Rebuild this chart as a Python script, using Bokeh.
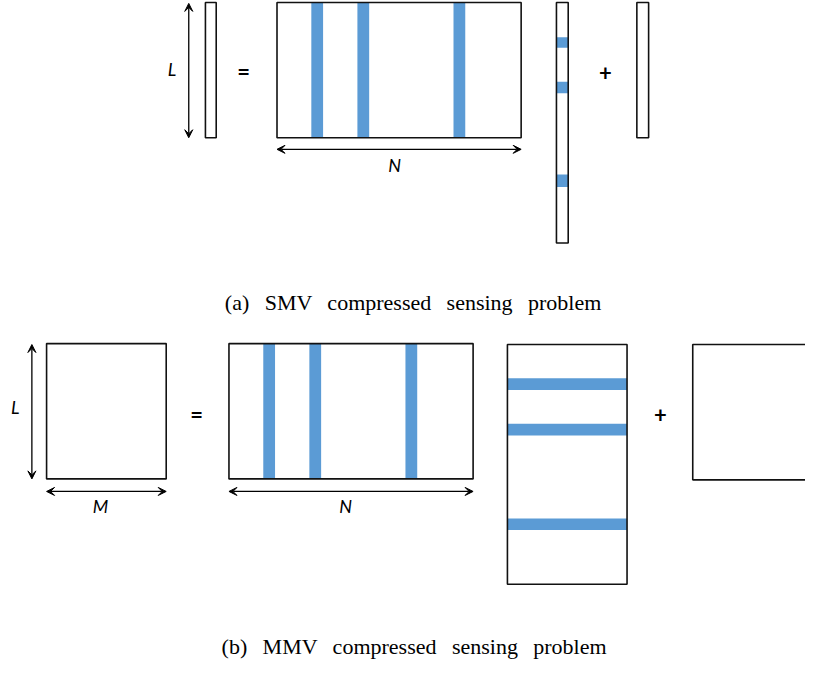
from bokeh.plotting import figure
from bokeh.models import Range1d, Arrow, VeeHead
from bokeh.core.properties import value
from bokeh.embed import file_html
from bokeh.resources import INLINE

# ---- geometry of the diagram (image pixel coordinates, y downward) ----
# plain outlined boxes: left, right, top, bottom
box_left   = [209, 282, 567, 649,  47, 233, 517, 706]
box_right  = [220, 531, 579, 661, 169, 482, 639, 840]
box_top    = [  1,   1,   1,   1, 354, 354, 355, 355]
box_bottom = [141, 141, 250, 141, 494, 494, 603, 495]

# blue columns of the dictionary matrices
col_left   = [317, 364, 462, 268, 315, 413]
col_width  = 12
col_top    = [  1,   1,   1, 354, 354, 354]
col_bottom = [141, 141, 141, 494, 494, 494]

# blue rows of the sparse vectors / matrices
row_left   = [567, 567, 567, 517, 517, 517]
row_right  = [579, 579, 579, 639, 639, 639]
row_top    = [ 37,  83, 179, 390, 437, 535]
row_bottom = [ 48,  95, 192, 402, 449, 547]

# double-headed dimension arrows: x0, y0, x1, y1
arr_x0 = [192, 282,  32,  47, 233]
arr_y0 = [  2, 153, 355, 507, 507]
arr_x1 = [192, 531,  32, 169, 482]
arr_y1 = [141, 153, 494, 507, 507]

# italic dimension labels
lab_text = ["L", "N", "L", "M", "N"]
lab_x    = [175, 402,  15, 102, 352]
lab_y    = [ 70, 169, 420, 522, 522]

# operators
op_text = ["=", "+", "=", "+"]
op_x    = [248, 617, 200, 673]
op_y    = [ 72,  73, 427, 427]

# captions
GAP = " \u00a0\u2009"
cap_text = [GAP.join(["(a)", "SMV", "compressed", "sensing", "problem"]),
            GAP.join(["(b)", "MMV", "compressed", "sensing", "problem"])]
cap_x = [421, 422]
cap_y = [312, 667]

BLUE = "#5B9BD5"

p = figure(width=805, height=662, output_backend="svg", toolbar_location=None,
           x_range=Range1d(0, 821), y_range=Range1d(684, -1),
           min_border=0, outline_line_color=None)
p.xaxis.visible = False
p.yaxis.visible = False
p.grid.visible = False
p.background_fill_color = "white"
p.border_fill_color = "white"

# white boxes
p.quad(left=box_left, right=box_right, top=box_top, bottom=box_bottom,
       fill_color="white", line_color=None)
# blue columns
p.quad(left=col_left, right=[c + col_width for c in col_left], top=col_top, bottom=col_bottom,
       fill_color=BLUE, line_color=None)
# blue rows
p.quad(left=row_left, right=row_right, top=row_top, bottom=row_bottom,
       fill_color=BLUE, line_color=None)
# outlines
p.quad(left=box_left, right=box_right, top=box_top, bottom=box_bottom,
       fill_alpha=0, line_color="#111111", line_width=1.6)

for x0, y0, x1, y1 in zip(arr_x0, arr_y0, arr_x1, arr_y1):
    p.add_layout(Arrow(x_start=x0, y_start=y0, x_end=x1, y_end=y1,
                       line_color="black", line_width=1.3,
                       start=VeeHead(size=8, fill_color="black", line_color="black", line_width=1),
                       end=VeeHead(size=8, fill_color="black", line_color="black", line_width=1)))

p.text(x=lab_x, y=lab_y, text=lab_text, text_font=value("Lato"), text_font_style="italic",
       text_font_size="18px", text_align="center", text_baseline="middle", text_color="black")
p.text(x=op_x, y=op_y, text=op_text, text_font=value("Lato"), text_font_style="bold",
       text_font_size="22px", text_align="center", text_baseline="middle", text_color="black")
p.text(x=cap_x, y=cap_y, text=cap_text, text_font=value("Liberation Serif"),
       text_font_size="22px", text_align="center", text_baseline="alphabetic", text_color="black")

open("out.html", "w").write(file_html(p, INLINE))
